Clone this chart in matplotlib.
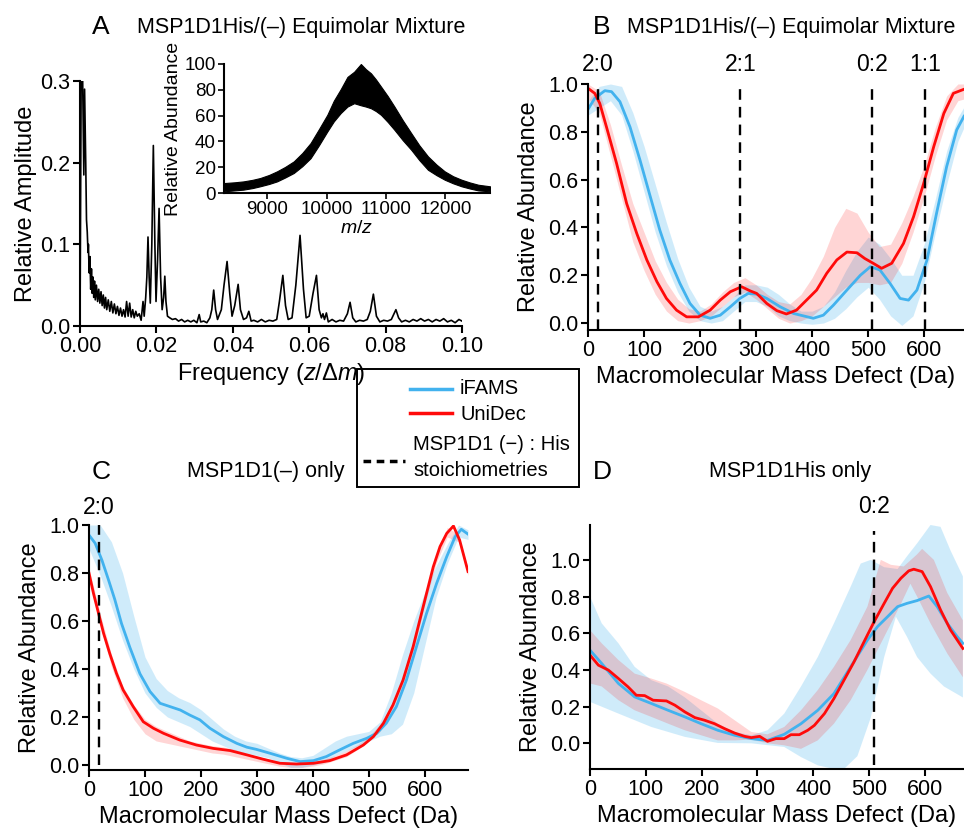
import numpy as np
import matplotlib
matplotlib.use('Agg')
import matplotlib.pyplot as plt
from matplotlib.lines import Line2D
from matplotlib.patches import Rectangle

plt.rcParams['font.family'] = ['Liberation Sans', 'DejaVu Sans']
plt.rcParams['mathtext.fontset'] = 'custom'
plt.rcParams['mathtext.rm'] = 'Liberation Sans'
plt.rcParams['mathtext.it'] = 'Liberation Sans:italic'

BLUE = '#42b2ee'
RED = '#ff0a0a'

# ---- panel A: Fourier spectrum (frequency, relative amplitude)
fft_freq = [0.0000, 0.0003, 0.0007, 0.0010, 0.0012, 0.0015, 0.0017, 0.0019, 0.0021, 0.0022,
            0.0024, 0.0026, 0.0028, 0.0030, 0.0032, 0.0034, 0.0036, 0.0038, 0.0040, 0.0043,
            0.0046, 0.0049, 0.0052, 0.0055, 0.0058, 0.0061, 0.0064, 0.0067, 0.0070, 0.0074,
            0.0078, 0.0082, 0.0086, 0.0090, 0.0094, 0.0098, 0.0102, 0.0106, 0.0110, 0.0114,
            0.0118, 0.0122, 0.0126, 0.0130, 0.0134, 0.0138, 0.0142, 0.0146, 0.0150, 0.0155,
            0.0160, 0.0165, 0.0168, 0.0172, 0.0175, 0.0178, 0.0181, 0.0184, 0.0188, 0.0192,
            0.0196, 0.0199, 0.0203, 0.0207, 0.0211, 0.0215, 0.0219, 0.0222, 0.0225, 0.0229,
            0.0235, 0.0242, 0.0250, 0.0258, 0.0266, 0.0274, 0.0282, 0.0290, 0.0298, 0.0306,
            0.0312, 0.0316, 0.0324, 0.0332, 0.0340, 0.0345, 0.0350, 0.0355, 0.0360, 0.0370,
            0.0377, 0.0385, 0.0392, 0.0398, 0.0405, 0.0414, 0.0420, 0.0428, 0.0436, 0.0442,
            0.0448, 0.0455, 0.0465, 0.0475, 0.0485, 0.0495, 0.0505, 0.0515, 0.0522, 0.0531,
            0.0538, 0.0545, 0.0555, 0.0565, 0.0576, 0.0585, 0.0592, 0.0600, 0.0610, 0.0619,
            0.0626, 0.0632, 0.0636, 0.0640, 0.0645, 0.0650, 0.0660, 0.0670, 0.0680, 0.0690,
            0.0700, 0.0707, 0.0714, 0.0722, 0.0732, 0.0742, 0.0752, 0.0760, 0.0768, 0.0776,
            0.0785, 0.0795, 0.0805, 0.0815, 0.0822, 0.0827, 0.0834, 0.0842, 0.0852, 0.0862,
            0.0872, 0.0882, 0.0892, 0.0902, 0.0912, 0.0922, 0.0932, 0.0942, 0.0952, 0.0962,
            0.0972, 0.0982, 0.0992, 0.1000]
fft_amp = [0.0, 0.30, 0.30, 0.185, 0.29, 0.20, 0.13, 0.115, 0.09, 0.10,
           0.065, 0.085, 0.045, 0.07, 0.040, 0.060, 0.035, 0.055, 0.032, 0.050,
           0.030, 0.045, 0.028, 0.042, 0.025, 0.038, 0.022, 0.035, 0.020, 0.032,
           0.018, 0.030, 0.016, 0.027, 0.015, 0.024, 0.013, 0.022, 0.012, 0.020,
           0.011, 0.030, 0.012, 0.028, 0.011, 0.020, 0.010, 0.018, 0.012, 0.015,
           0.007, 0.030, 0.012, 0.035, 0.060, 0.109, 0.060, 0.028, 0.10, 0.221,
           0.10, 0.030, 0.08, 0.144, 0.06, 0.020, 0.035, 0.061, 0.030, 0.012,
           0.010, 0.008, 0.009, 0.006, 0.008, 0.005, 0.007, 0.005, 0.007, 0.004,
           0.014, 0.005, 0.006, 0.004, 0.010, 0.020, 0.044, 0.020, 0.008, 0.020,
           0.05, 0.079, 0.04, 0.012, 0.025, 0.051, 0.020, 0.008, 0.010, 0.018,
           0.006, 0.007, 0.005, 0.008, 0.005, 0.007, 0.006, 0.008, 0.030, 0.062,
           0.025, 0.008, 0.010, 0.050, 0.111, 0.045, 0.010, 0.012, 0.040, 0.062,
           0.020, 0.010, 0.015, 0.008, 0.016, 0.005, 0.008, 0.005, 0.007, 0.006,
           0.015, 0.029, 0.010, 0.005, 0.007, 0.006, 0.008, 0.018, 0.039, 0.012,
           0.005, 0.007, 0.006, 0.008, 0.015, 0.020, 0.010, 0.005, 0.007, 0.005,
           0.008, 0.006, 0.009, 0.006, 0.008, 0.005, 0.008, 0.006, 0.009, 0.005,
           0.007, 0.004, 0.008, 0.006]

# inset mass spectrum envelope (m/z, upper and lower edge of the dense trace)
ms_mz = [8271, 8450, 8598, 8750, 8880, 9030, 9164, 9300, 9446, 9590, 9729, 9870, 10011, 10120,
         10237, 10350, 10463, 10576, 10660, 10746, 10830, 10915, 11030, 11141, 11280, 11424,
         11560, 11706, 11850, 11988, 12130, 12271, 12410, 12554, 12751]
ms_hi = [7.7, 8.3, 9.0, 10.2, 11.6, 14.0, 16.8, 20.2, 24.5, 31.0, 38.7, 49.5, 60.6, 71.5,
         80.5, 90.0, 94.0, 100.0, 96.0, 92.8, 88.0, 82.5, 75.0, 67.0, 56.5, 46.4, 37.0, 28.4,
         22.0, 16.8, 13.0, 10.3, 8.2, 6.4, 5.2]
ms_lo = [1.3, 2.0, 2.6, 3.8, 5.2, 7.0, 9.0, 12.0, 15.5, 20.8, 27.0, 37.0, 47.7, 55.5,
         62.0, 67.0, 69.6, 68.0, 67.0, 65.7, 63.5, 60.6, 55.0, 49.0, 41.0, 33.5, 25.5, 18.0,
         13.8, 10.3, 7.5, 5.2, 3.5, 2.0, 1.3]

# ---- panel B: equimolar mixture
b_ifams_x = [0, 12, 30, 42, 57, 75, 93, 111, 128, 146, 164, 182, 200, 218, 236, 254, 271, 286,
             301, 319, 343, 367, 402, 420, 438, 462, 486, 504, 521, 539, 557, 572, 587, 605,
             622, 640, 658, 671]
b_ifams_y = [0.894, 0.94, 0.972, 0.968, 0.926, 0.82, 0.68, 0.53, 0.39, 0.264, 0.166, 0.082,
             0.033, 0.02, 0.033, 0.068, 0.103, 0.124, 0.121, 0.103, 0.068, 0.04, 0.02, 0.033,
             0.075, 0.138, 0.2, 0.236, 0.222, 0.166, 0.103, 0.096, 0.138, 0.264, 0.459, 0.654,
             0.808, 0.865]
b_unidec_x = [0, 12, 21, 33, 51, 69, 87, 105, 123, 140, 158, 176, 197, 218, 236, 254, 274, 289,
              301, 319, 337, 354, 372, 390, 408, 426, 444, 462, 480, 494, 509, 524, 542, 563,
              581, 599, 617, 635, 652, 671]
b_unidec_y = [0.982, 0.961, 0.919, 0.82, 0.668, 0.5, 0.375, 0.264, 0.173, 0.103, 0.054, 0.026,
              0.026, 0.054, 0.096, 0.131, 0.152, 0.135, 0.124, 0.082, 0.052, 0.038, 0.054, 0.096,
              0.138, 0.208, 0.264, 0.297, 0.294, 0.27, 0.25, 0.229, 0.25, 0.333, 0.445, 0.584,
              0.738, 0.877, 0.961, 0.978]
b_band_x = [0, 20, 40, 60, 80, 100, 120, 140, 160, 180, 200, 220, 240, 260, 280, 300, 320, 340,
            360, 380, 400, 420, 440, 460, 480, 500, 520, 540, 560, 580, 600, 620, 640, 660, 675]
b_ifams_lo = [0.87, 0.90, 0.93, 0.87, 0.72, 0.55, 0.38, 0.24, 0.13, 0.05, 0.01, 0.0, 0.01, 0.05,
              0.09, 0.09, 0.07, 0.03, 0.01, 0.0, -0.005, 0.0, 0.02, 0.06, 0.11, 0.15, 0.10, 0.03,
              -0.01, 0.03, 0.17, 0.38, 0.58, 0.76, 0.84]
b_ifams_hi = [0.93, 0.99, 1.0, 0.99, 0.88, 0.74, 0.58, 0.42, 0.27, 0.15, 0.07, 0.05, 0.07, 0.11,
              0.16, 0.16, 0.15, 0.12, 0.08, 0.05, 0.05, 0.07, 0.13, 0.22, 0.30, 0.36, 0.33, 0.27,
              0.20, 0.20, 0.33, 0.52, 0.72, 0.86, 0.92]
b_unidec_lo = [0.94, 0.88, 0.70, 0.52, 0.34, 0.22, 0.12, 0.05, 0.01, 0.0, 0.01, 0.03, 0.07, 0.11,
               0.13, 0.10, 0.06, 0.02, 0.0, 0.01, 0.03, 0.07, 0.11, 0.15, 0.17, 0.17, 0.16, 0.17,
               0.25, 0.38, 0.53, 0.70, 0.85, 0.93, 0.94]
b_unidec_hi = [1.0, 0.97, 0.83, 0.66, 0.50, 0.38, 0.26, 0.17, 0.10, 0.06, 0.05, 0.08, 0.13, 0.17,
               0.19, 0.16, 0.12, 0.09, 0.08, 0.12, 0.19, 0.28, 0.40, 0.48, 0.46, 0.38, 0.32, 0.33,
               0.42, 0.53, 0.66, 0.82, 0.95, 1.0, 1.0]
b_marks = [18, 272, 507, 601]
b_mark_labels = ['2:0', '2:1', '0:2', '1:1']

# ---- panel C: MSP1D1(-) only
c_ifams_x = [0, 11, 23, 35, 46, 58, 73, 91, 109, 127, 145, 163, 180, 198, 216, 240, 264, 282,
             299, 323, 353, 377, 401, 424, 448, 472, 496, 514, 531, 549, 567, 585, 603, 621,
             639, 654, 665, 677]
c_ifams_y = [0.958, 0.924, 0.854, 0.77, 0.69, 0.59, 0.49, 0.38, 0.306, 0.257, 0.243, 0.229,
             0.208, 0.188, 0.153, 0.118, 0.09, 0.074, 0.065, 0.049, 0.028, 0.014, 0.018, 0.035,
             0.063, 0.09, 0.111, 0.132, 0.174, 0.243, 0.354, 0.493, 0.632, 0.757, 0.868, 0.951,
             0.982, 0.962]
c_unidec_x = [0, 8, 17, 26, 37, 49, 61, 79, 97, 115, 133, 162, 192, 222, 252, 282, 311, 341,
              371, 401, 430, 460, 490, 508, 526, 543, 561, 579, 597, 615, 627, 639, 651, 662, 677]
c_unidec_y = [0.799, 0.715, 0.632, 0.549, 0.465, 0.382, 0.3125, 0.243, 0.18, 0.153, 0.132,
              0.104, 0.083, 0.069, 0.06, 0.042, 0.024, 0.007, 0.004, 0.007, 0.018, 0.042, 0.083,
              0.118, 0.174, 0.25, 0.354, 0.493, 0.66, 0.826, 0.91, 0.965, 0.996, 0.9375, 0.806]
c_band_x = [0, 20, 40, 60, 80, 100, 120, 140, 160, 180, 200, 220, 240, 260, 280, 300, 320, 340,
            360, 380, 400, 420, 440, 460, 480, 500, 520, 540, 560, 580, 600, 620, 640, 660, 677]
c_ifams_lo = [0.90, 0.79, 0.66, 0.52, 0.40, 0.30, 0.24, 0.20, 0.18, 0.16, 0.13, 0.10, 0.08, 0.06,
              0.05, 0.04, 0.03, 0.01, -0.01, -0.01, 0.0, 0.01, 0.04, 0.06, 0.08, 0.10, 0.12, 0.13,
              0.17, 0.30, 0.50, 0.70, 0.84, 0.95, 0.94]
c_ifams_hi = [1.0, 1.0, 0.93, 0.80, 0.62, 0.45, 0.36, 0.31, 0.28, 0.26, 0.23, 0.19, 0.15, 0.12,
              0.10, 0.09, 0.07, 0.05, 0.035, 0.03, 0.04, 0.07, 0.10, 0.12, 0.13, 0.14, 0.18, 0.30,
              0.46, 0.60, 0.72, 0.83, 0.92, 1.0, 0.98]
c_unidec_lo = [0.78, 0.58, 0.41, 0.28, 0.19, 0.13, 0.10, 0.09, 0.08, 0.07, 0.06, 0.05, 0.045,
               0.035, 0.025, 0.015, 0.005, -0.005, -0.01, -0.01, -0.005, 0.005, 0.02, 0.035,
               0.065, 0.10, 0.14, 0.22, 0.33, 0.48, 0.67, 0.84, 0.95, 0.93, 0.79]
c_unidec_hi = [0.82, 0.63, 0.46, 0.33, 0.25, 0.19, 0.16, 0.14, 0.12, 0.10, 0.09, 0.08, 0.075,
               0.065, 0.05, 0.035, 0.025, 0.015, 0.01, 0.01, 0.015, 0.025, 0.04, 0.06, 0.085,
               0.12, 0.17, 0.25, 0.36, 0.52, 0.71, 0.87, 0.99, 0.96, 0.82]
c_marks = [18]
c_mark_labels = ['2:0']

# ---- panel D: MSP1D1His only
d_ifams_x = [0, 21, 51, 80, 110, 140, 170, 199, 229, 259, 289, 318, 348, 378, 408, 437, 467,
             497, 515, 533, 551, 568, 586, 607, 622, 640, 658, 668]
d_ifams_y = [0.508, 0.435, 0.326, 0.253, 0.217, 0.18, 0.144, 0.107, 0.071, 0.044, 0.0255,
             0.016, 0.049, 0.107, 0.18, 0.271, 0.417, 0.563, 0.636, 0.69, 0.745, 0.763, 0.778,
             0.803, 0.745, 0.654, 0.581, 0.545]
d_ifams_hi_x = [0, 21, 51, 80, 110, 140, 170, 199, 229, 259, 289, 318, 348, 378, 408, 437, 467,
                485, 503, 527, 551, 568, 586, 610, 628, 646, 668]
d_ifams_hi = [0.80, 0.654, 0.545, 0.417, 0.344, 0.31, 0.25, 0.18, 0.107, 0.062, 0.044, 0.071,
              0.162, 0.31, 0.47, 0.654, 0.854, 0.98, 1.0, 0.96, 0.95, 1.02, 1.09, 1.19, 1.18,
              1.05, 0.91]
d_ifams_lo_x = [0, 51, 110, 170, 229, 289, 318, 348, 378, 408, 437, 455, 479, 503, 527, 548,
                568, 586, 610, 634, 668]
d_ifams_lo = [0.226, 0.162, 0.089, 0.035, 0.002, 0.0, -0.01, -0.02, -0.075, -0.12, -0.14,
              -0.14, -0.07, 0.14, 0.47, 0.69, 0.58, 0.47, 0.38, 0.31, 0.25]
d_unidec_x = [0, 15, 33, 51, 68, 83, 98, 113, 137, 152, 170, 188, 205, 223, 241, 259, 277, 289,
              304, 318, 333, 348, 360, 375, 390, 402, 420, 437, 455, 473, 491, 509, 527, 542,
              557, 571, 580, 595, 610, 628, 646, 668]
d_unidec_y = [0.481, 0.426, 0.399, 0.353, 0.308, 0.262, 0.26, 0.235, 0.231, 0.208, 0.171, 0.14,
              0.126, 0.107, 0.08, 0.056, 0.038, 0.031, 0.038, 0.011, 0.0255, 0.0255, 0.047,
              0.047, 0.071, 0.098, 0.162, 0.244, 0.344, 0.444, 0.554, 0.663, 0.763, 0.845, 0.9,
              0.94, 0.949, 0.936, 0.854, 0.727, 0.617, 0.517]
d_unidec_hi_x = [0, 21, 51, 80, 110, 137, 170, 199, 229, 259, 289, 318, 348, 378, 408, 437, 467,
                 497, 521, 539, 562, 586, 595, 616, 640, 668]
d_unidec_hi = [0.617, 0.545, 0.454, 0.38, 0.353, 0.326, 0.28, 0.235, 0.19, 0.126, 0.062, 0.049,
               0.089, 0.18, 0.29, 0.417, 0.563, 0.745, 1.0, 0.973, 0.964, 1.03, 1.06, 1.0, 0.82,
               0.67]
d_unidec_lo_x = [0, 21, 51, 80, 110, 140, 170, 199, 229, 259, 289, 318, 348, 378, 408, 437, 467,
                 497, 527, 557, 574, 586, 610, 640, 668]
d_unidec_lo = [0.326, 0.31, 0.235, 0.18, 0.144, 0.107, 0.071, 0.044, 0.016, 0.016, 0.02, 0.0,
               -0.011, -0.03, 0.016, 0.107, 0.235, 0.4, 0.58, 0.76, 0.87, 0.8, 0.654, 0.49, 0.36]
d_marks = [509]
d_mark_labels = ['0:2']


W, H = 964, 833
fig = plt.figure(figsize=(W / 100, H / 100), dpi=100)


def box(left, top, right, bottom):
    return [left / W, 1 - bottom / H, (right - left) / W, (bottom - top) / H]


def style(ax, size=15.5):
    for s in ['top', 'right']:
        ax.spines[s].set_visible(False)
    for s in ['left', 'bottom']:
        ax.spines[s].set_linewidth(1.5)
    ax.tick_params(direction='out', length=5, width=1.5, labelsize=size, pad=2)


def marks(ax, xs, labels, ylab, ymin=0.0, ymax=1.0):
    for x, lab in zip(xs, labels):
        ax.axvline(x, ymin=ymin, ymax=ymax, color='black', lw=1.7, ls=(0, (4.5, 3)))
        ax.text(x, ylab, lab, ha='center', va='center', fontsize=16.5, clip_on=False)


def fig_text(x, y, s, **kw):
    fig.text(x / W, 1 - y / H, s, **kw)


# panel A
axA = fig.add_axes(box(80, 81, 462, 326))
axA.plot(fft_freq, fft_amp, color='black', lw=1.2)
axA.set_xlim(0, 0.1)
axA.set_ylim(0, 0.3)
axA.set_xticks([0.0, 0.02, 0.04, 0.06, 0.08, 0.10])
axA.set_xticklabels(['0.00', '0.02', '0.04', '0.06', '0.08', '0.10'])
axA.set_yticks([0.0, 0.1, 0.2, 0.3])
axA.set_yticklabels(['0.0', '0.1', '0.2', '0.3'])
style(axA)
axA.set_xlabel(r'Frequency ($z$/$\Delta m$)', fontsize=17, labelpad=3)
axA.set_ylabel('Relative Amplitude', fontsize=17, labelpad=2)

axIn = fig.add_axes(box(224, 64, 490, 193))
axIn.set_facecolor('none')
axIn.fill_between(ms_mz, ms_lo, ms_hi, color='black', lw=0.8)
axIn.set_xlim(8271, 12751)
axIn.set_ylim(0, 100)
axIn.set_xticks([9000, 10000, 11000, 12000])
axIn.set_yticks([0, 20, 40, 60, 80, 100])
style(axIn, size=13.5)
axIn.tick_params(length=4, width=1.2)
axIn.set_xlabel(r'$m$/$z$', fontsize=14, labelpad=1)
axIn.set_ylabel('Relative Abundance', fontsize=14, labelpad=2)

# panels B, C, D
axB = fig.add_axes(box(588, 84, 964, 330))
axB.fill_between(b_band_x, b_ifams_lo, b_ifams_hi, color=BLUE, alpha=0.25, lw=0)
axB.plot(b_ifams_x, b_ifams_y, color=BLUE, lw=2)
axB.fill_between(b_band_x, b_unidec_lo, b_unidec_hi, color=RED, alpha=0.17, lw=0)
axB.plot(b_unidec_x, b_unidec_y, color=RED, lw=2)
axB.set_xlim(0, 671)
axB.set_ylim(-0.029, 1.0)
marks(axB, b_marks, b_mark_labels, 1.08)

axC = fig.add_axes(box(89, 525, 468, 770))
axC.fill_between(c_band_x, c_unidec_lo, c_unidec_hi, color=RED, alpha=0.17, lw=0)
axC.fill_between(c_band_x, c_ifams_lo, c_ifams_hi, color=BLUE, alpha=0.25, lw=0)
axC.plot(c_ifams_x, c_ifams_y, color=BLUE, lw=2)
axC.plot(c_unidec_x, c_unidec_y, color=RED, lw=2)
axC.set_xlim(0, 677)
axC.set_ylim(-0.021, 1.0)
marks(axC, c_marks, c_mark_labels, 1.075, ymin=0.02)

axD = fig.add_axes(box(590, 525, 964, 769))
axD.fill(d_ifams_hi_x + d_ifams_lo_x[::-1], d_ifams_hi + d_ifams_lo[::-1],
         color=BLUE, alpha=0.25, lw=0)
axD.plot(d_ifams_x, d_ifams_y, color=BLUE, lw=2)
axD.fill(d_unidec_hi_x + d_unidec_lo_x[::-1], d_unidec_hi + d_unidec_lo[::-1],
         color=RED, alpha=0.17, lw=0)
axD.plot(d_unidec_x, d_unidec_y, color=RED, lw=2)
axD.set_xlim(0, 670)
axD.set_ylim(-0.14, 1.19)
marks(axD, d_marks, d_mark_labels, 1.29, ymin=0.015, ymax=0.977)

for ax in [axB, axC, axD]:
    ax.set_xticks([0, 100, 200, 300, 400, 500, 600])
    ax.set_yticks([0.0, 0.2, 0.4, 0.6, 0.8, 1.0])
    ax.set_yticklabels(['0.0', '0.2', '0.4', '0.6', '0.8', '1.0'])
    style(ax)
    ax.set_xlabel('Macromolecular Mass Defect (Da)', fontsize=17, labelpad=4)
    ax.set_ylabel('Relative Abundance', fontsize=17, labelpad=6)

# panel titles
fig_text(101, 27, 'A', fontsize=19, ha='center', va='center')
fig_text(137, 27, 'MSP1D1His/(\u2013) Equimolar Mixture', fontsize=15.5, ha='left', va='center')
fig_text(602, 27, 'B', fontsize=19, ha='center', va='center')
fig_text(627, 27, 'MSP1D1His/(\u2013) Equimolar Mixture', fontsize=15.5, ha='left', va='center')
fig_text(101, 472, 'C', fontsize=19, ha='center', va='center')
fig_text(266, 472, 'MSP1D1(\u2013) only', fontsize=15.5, ha='center', va='center')
fig_text(602, 472, 'D', fontsize=19, ha='center', va='center')
fig_text(790, 472, 'MSP1D1His only', fontsize=15.5, ha='center', va='center')

# shared legend
fig.add_artist(Rectangle((357 / W, 1 - 487 / H), 222 / W, 118 / H, transform=fig.transFigure,
                         fill=False, ec='black', lw=1.4))
fig.add_artist(Line2D([410 / W, 452 / W], [1 - 389 / H] * 2, transform=fig.transFigure,
                      color=BLUE, lw=2.5))
fig.add_artist(Line2D([410 / W, 452 / W], [1 - 413 / H] * 2, transform=fig.transFigure,
                      color=RED, lw=2.5))
fig.add_artist(Line2D([363 / W, 405 / W], [1 - 461 / H] * 2, transform=fig.transFigure,
                      color='black', lw=2.5, ls=(0, (2.2, 1.6))))
fig_text(460, 388, 'iFAMS', fontsize=14.5, va='center')
fig_text(460, 414, 'UniDec', fontsize=14.5, va='center')
fig_text(413, 445, 'MSP1D1 (\u2212) : His', fontsize=14.5, va='center')
fig_text(413, 470, 'stoichiometries', fontsize=14.5, va='center')

fig.savefig('out.png', dpi=100)
